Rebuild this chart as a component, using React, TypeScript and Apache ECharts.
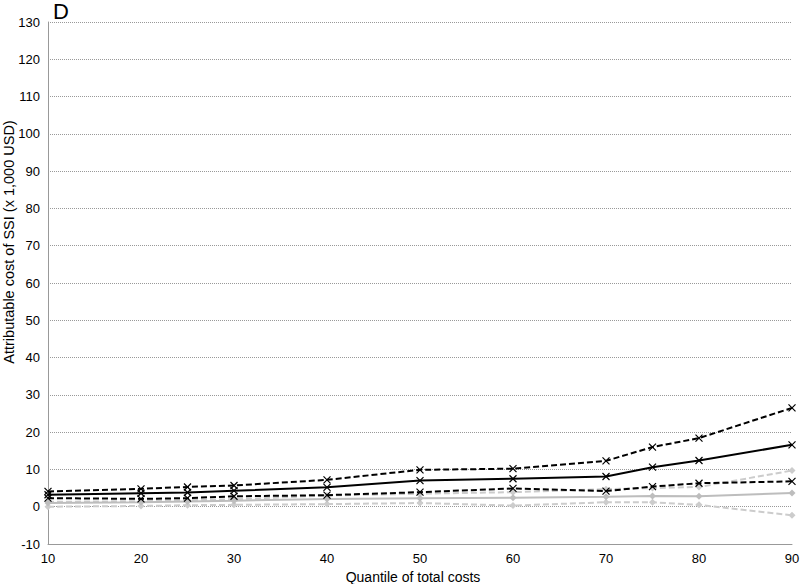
import React, { useEffect, useRef } from "react";
import * as echarts from "echarts";

const quantiles = [10, 20, 25, 30, 40, 50, 60, 70, 75, 80, 90];
const upperBlack = [4.1, 4.8, 5.3, 5.7, 7.2, 9.9, 10.2, 12.3, 16.0, 18.4, 26.5];
const solidBlack = [3.2, 3.6, 3.8, 4.3, 5.2, 7.0, 7.5, 8.1, 10.6, 12.4, 16.6];
const lowerBlack = [2.3, 2.1, 2.3, 2.8, 3.1, 3.9, 4.9, 4.2, 5.4, 6.3, 6.8];
const grayUpper = [1.3, 1.5, 1.8, 2.0, 3.0, 3.5, 3.9, 4.7, 5.0, 5.3, 9.7];
const graySolid = [1.0, 1.2, 1.4, 1.6, 2.1, 2.3, 2.4, 2.7, 2.9, 2.8, 3.7];
const grayLower = [0.0, 0.2, 0.4, 0.5, 0.7, 1.0, 0.3, 1.2, 1.2, 0.5, -2.3];

const panelLabel = "D";
const xTitle = "Quantile of total costs";
const yTitle = "Attributable cost of SSI (x 1,000 USD)";

const FONT = "'Liberation Sans', Arial, sans-serif";
const CROSS = "path://M0,0L10,10M10,0L0,10";

function pairs(vals: number[]) {
  return quantiles.map((q, i) => [q, vals[i]]);
}

export default function App() {
  const ref = useRef<HTMLDivElement>(null);
  useEffect(() => {
    if (!ref.current) return;
    const chart = echarts.init(ref.current, undefined, { renderer: "svg" });
    const blackLine = (name: string, vals: number[], dashed: boolean) => ({
      name,
      type: "line",
      data: pairs(vals),
      symbol: CROSS,
      symbolSize: 7,
      showSymbol: true,
      lineStyle: { color: "#000", width: 2, type: dashed ? [6, 3] : "solid" },
      itemStyle: { color: "#000", borderColor: "#000", borderWidth: 1.2 },
      z: 3,
    });
    const grayLine = (name: string, vals: number[], dashed: boolean) => ({
      name,
      type: "line",
      data: pairs(vals),
      symbol: "diamond",
      symbolSize: 7,
      showSymbol: true,
      lineStyle: {
        color: dashed ? "#cccccc" : "#bdbdbd",
        width: 2,
        type: dashed ? [6, 3] : "solid",
      },
      itemStyle: { color: dashed ? "#cccccc" : "#bdbdbd", borderWidth: 0 },
      z: 2,
    });
    chart.setOption({
      animation: false,
      textStyle: { fontFamily: FONT },
      grid: {
        left: 48,
        right: 8,
        top: 22,
        bottom: 40,
        containLabel: false,
        outerBoundsMode: "none",
      },
      graphic: [
        {
          type: "text",
          left: 53,
          top: 0,
          style: { text: panelLabel, fontSize: 22, fontFamily: FONT, fill: "#000" },
        },
        {
          type: "text",
          x: 9,
          y: 242,
          rotation: Math.PI / 2,
          style: {
            text: yTitle,
            fontSize: 14.5,
            fontFamily: FONT,
            fill: "#000",
            align: "center",
            verticalAlign: "middle",
          },
        },
        {
          type: "text",
          x: 413,
          y: 577,
          style: {
            text: xTitle,
            fontSize: 14,
            fontFamily: FONT,
            fill: "#000",
            align: "center",
            verticalAlign: "middle",
          },
        },
      ],
      xAxis: {
        type: "value",
        min: 10,
        max: 90,
        interval: 10,
        axisLine: { show: true, onZero: false, lineStyle: { color: "#999", width: 1 } },
        axisTick: { show: false },
        axisLabel: { fontSize: 13, color: "#000", margin: 8, fontFamily: FONT },
        splitLine: { show: false },
      },
      yAxis: {
        type: "value",
        min: -10,
        max: 130,
        interval: 10,
        axisLine: { show: true, lineStyle: { color: "#999", width: 1 } },
        axisTick: { show: false },
        axisLabel: { fontSize: 13, color: "#000", margin: 8, fontFamily: FONT },
        splitLine: { show: true, lineStyle: { color: "#999", width: 1, type: [1, 1] } },
      },
      series: [
        grayLine("grayLower", grayLower, true),
        grayLine("grayUpper", grayUpper, true),
        grayLine("graySolid", graySolid, false),
        blackLine("lowerBlack", lowerBlack, true),
        blackLine("upperBlack", upperBlack, true),
        blackLine("solidBlack", solidBlack, false),
      ],
    });
    return () => chart.dispose();
  }, []);
  return (
    <div
      ref={ref}
      style={{ position: "fixed", left: 0, top: 0, width: 800, height: 584, background: "#fff" }}
    />
  );
}
